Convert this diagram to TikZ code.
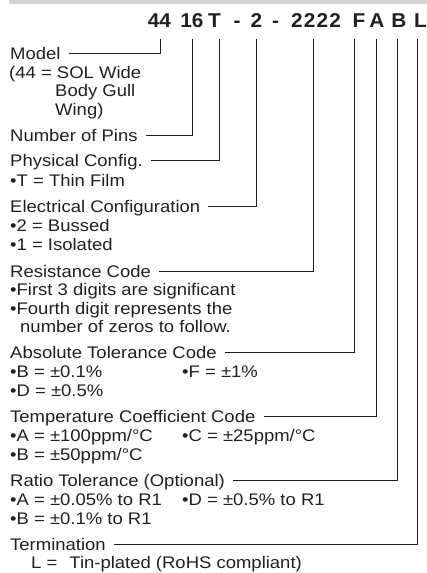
\documentclass[tikz,border=0pt]{standalone}
\usepackage{fontspec}
\setmainfont{Liberation Sans}[FakeStretch=1.1]
\newfontfamily\codefont{Liberation Sans}[FakeStretch=1.04]
\definecolor{ink}{RGB}{35,31,32}
\definecolor{bar}{RGB}{211,213,213}
\tikzset{
  lbl/.style={anchor=base west,inner sep=0pt,text height=12pt,text depth=0pt,
    font=\fontsize{16.8}{18.5}\selectfont,text=ink},
  code/.style={anchor=base,inner sep=0pt,font=\fontsize{20}{24}\codefont\bfseries,text=ink},
  lead/.style={line width=.9pt,draw=ink},
}
\begin{document}
\begin{tikzpicture}[x=1pt,y=-1pt]
  \useasboundingbox (0,0) rectangle (427,573);
  \fill[bar] (9,0) rectangle (427,3.5);

  \node[code] (c44) at (159.5,27.3) {44};
  \node[code] (c16) at (192,27.3) {16};
  \node[code] (cT) at (214.5,27.3) {T};
  \node[code] (cDashA) at (237,27.3) {-};
  \node[code] (c2) at (256.5,27.3) {2};
  \node[code] (cDashB) at (275.5,27.3) {-};
  \node[code] (c2222) at (316,27.3) {\addfontfeature{LetterSpace=6}2222};
  \node[code] (cF) at (359,27.3) {F};
  \node[code] (cA) at (377,27.3) {A};
  \node[code] (cB) at (399,27.3) {B};
  \node[code] (cL) at (420.5,27.3) {L};

  \node[lbl] (hModel) at (10,59.7) {Model};
  \node[lbl] (dModelA) at (9,78.3) {(44 = SOL Wide};
  \node[lbl] (dModelB) at (55,96.9) {Body Gull};
  \node[lbl] (dModelC) at (55,115.5) {Wing)};

  \node[lbl] (hPins) at (10,141) {Number of Pins};

  \node[lbl] (hPhys) at (10,166.8) {Physical Config.};
  \node[lbl] (dPhys) at (10,186) {•T = Thin Film};

  \node[lbl] (hElec) at (10,212.3) {Electrical Configuration};
  \node[lbl] (dElecA) at (10,231.3) {•2 = Bussed};
  \node[lbl] (dElecB) at (10,250.3) {•1 = Isolated};

  \node[lbl] (hRes) at (10,277) {Resistance Code};
  \node[lbl] (dResA) at (10,295.6) {•First 3 digits are significant};
  \node[lbl] (dResB) at (10,314.2) {•Fourth digit represents the};
  \node[lbl] (dResC) at (20,332.8) {number of zeros to follow.};

  \node[lbl] (hAbs) at (10,358.5) {Absolute Tolerance Code};
  \node[lbl] (dAbsB) at (10,377.5) {•B = ±0.1\%};
  \node[lbl] (dAbsF) at (182,377.5) {•F = ±1\%};
  \node[lbl] (dAbsD) at (10,396.5) {•D = ±0.5\%};

  \node[lbl] (hTemp) at (10,422) {Temperature Coefficient Code};
  \node[lbl] (dTempA) at (10,441) {•A = ±100ppm/°C};
  \node[lbl] (dTempC) at (182,441) {•C = ±25ppm/°C};
  \node[lbl] (dTempB) at (10,460) {•B = ±50ppm/°C};

  \node[lbl] (hRatio) at (10,486) {Ratio Tolerance (Optional)};
  \node[lbl] (dRatioA) at (10,505) {•A = ±0.05\% to R1};
  \node[lbl] (dRatioD) at (182,505) {•D = ±0.5\% to R1};
  \node[lbl] (dRatioB) at (10,524) {•B = ±0.1\% to R1};

  \node[lbl] (hTerm) at (10,550) {Termination};
  \node[lbl] (dTerm) at (31,568.5) {L =\hspace{12pt}Tin-plated (RoHS compliant)};

  \begin{scope}[lead]
    \draw ([xshift=8pt]hModel.east) -| ([shift={(0.5pt,-11.7pt)}]c44.base);
    \draw ([xshift=8pt]hPins.east) -| ([shift={(0.7pt,-11.7pt)}]c16.base);
    \draw ([xshift=8pt]hPhys.east) -| ([shift={(4.8pt,-11.7pt)}]cT.base);
    \draw ([xshift=8pt]hElec.east) -| ([shift={(0.2pt,-11.7pt)}]c2.base);
    \draw ([xshift=8pt]hRes.east) -| ([shift={(-3pt,-11.7pt)}]c2222.base);
    \draw ([xshift=8pt]hAbs.east) -| ([shift={(-5pt,-11.7pt)}]cF.base);
    \draw ([xshift=8pt]hTemp.east) -| ([shift={(-0.3pt,-11.7pt)}]cA.base);
    \draw ([xshift=8pt]hRatio.east) -| ([shift={(-1.7pt,-11.7pt)}]cB.base);
    \draw ([xshift=8pt]hTerm.east) -| ([shift={(-3.2pt,-11.7pt)}]cL.base);
  \end{scope}
\end{tikzpicture}
\end{document}
